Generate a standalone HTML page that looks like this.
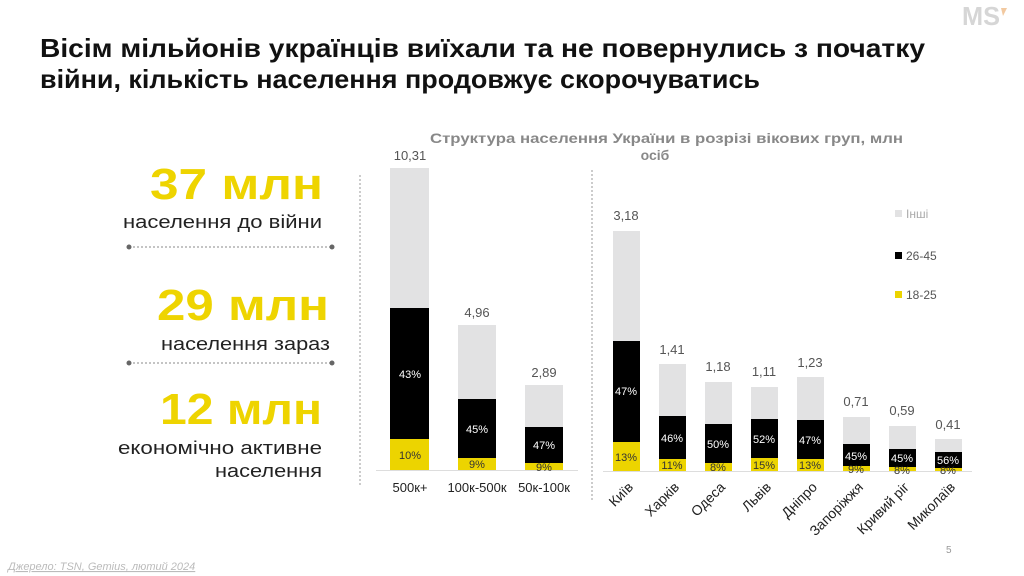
<!DOCTYPE html>
<html><head><meta charset="utf-8"><style>
html,body{margin:0;padding:0;background:#fff;}
svg{display:block;font-family:"Liberation Sans","DejaVu Sans",sans-serif;}
</style></head><body>
<svg width="1024" height="576" viewBox="0 0 1024 576" xmlns="http://www.w3.org/2000/svg">
<rect width="1024" height="576" fill="#fff"/>
<!-- logo -->
<text x="962" y="25" font-size="26" font-weight="bold" fill="#d6d6d6" textLength="38" lengthAdjust="spacingAndGlyphs">MS</text>
<polygon points="1001,8 1007,8 1003,16" fill="#f2c9a0"/>
<!-- title -->
<text x="40" y="57" font-size="26" font-weight="bold" fill="#111" textLength="885" lengthAdjust="spacingAndGlyphs">Вісім мільйонів українців виїхали та не повернулись з початку</text>
<text x="40" y="88" font-size="26" font-weight="bold" fill="#111" textLength="720" lengthAdjust="spacingAndGlyphs">війни, кількість  населення продовжує скорочуватись</text>
<!-- left stats -->
<g font-weight="bold" fill="#eed400" font-size="44">
<text x="150" y="199" textLength="173" lengthAdjust="spacingAndGlyphs">37 млн</text>
<text x="157" y="320" textLength="172" lengthAdjust="spacingAndGlyphs">29 млн</text>
<text x="160" y="424" textLength="162" lengthAdjust="spacingAndGlyphs">12 млн</text>
</g>
<g font-size="18" fill="#222">
<text x="123" y="228" textLength="199" lengthAdjust="spacingAndGlyphs">населення до війни</text>
<text x="161" y="350" textLength="169" lengthAdjust="spacingAndGlyphs">населення зараз</text>
<text x="118" y="454" textLength="204" lengthAdjust="spacingAndGlyphs">економічно активне</text>
<text x="215" y="477" textLength="107" lengthAdjust="spacingAndGlyphs">населення</text>
</g>
<g stroke="#888" stroke-width="1" stroke-dasharray="2,2"><line x1="129" y1="247" x2="332" y2="247"/><line x1="129" y1="363" x2="332" y2="363"/></g>
<g fill="#666"><circle cx="129" cy="247" r="2.5"/><circle cx="332" cy="247" r="2.5"/><circle cx="129" cy="363" r="2.5"/><circle cx="332" cy="363" r="2.5"/></g>
<!-- dotted separators -->
<g stroke="#999" stroke-width="1" stroke-dasharray="2,2">
<line x1="360" y1="175" x2="360" y2="485"/>
<line x1="592" y1="170" x2="592" y2="500"/>
</g>
<!-- chart title -->
<text x="430" y="143" font-size="14" font-weight="bold" fill="#888" textLength="473" lengthAdjust="spacingAndGlyphs">Структура населення України в розрізі вікових груп, млн</text>
<text x="655" y="160" font-size="14" font-weight="bold" fill="#888" text-anchor="middle">осіб</text>
<!-- left bars -->
<g>
<rect x="390" y="168" width="39" height="140" fill="#e2e2e3"/><rect x="390" y="308" width="39" height="131" fill="#000"/><rect x="390" y="439" width="39" height="31" fill="#ecd400"/>
<rect x="458" y="325" width="38" height="74" fill="#e2e2e3"/><rect x="458" y="399" width="38" height="59" fill="#000"/><rect x="458" y="458" width="38" height="12" fill="#ecd400"/>
<rect x="525" y="385" width="38" height="42" fill="#e2e2e3"/><rect x="525" y="427" width="38" height="36" fill="#000"/><rect x="525" y="463" width="38" height="7" fill="#ecd400"/>
</g>
<line x1="376" y1="470.5" x2="578" y2="470.5" stroke="#ddd"/>
<g font-size="13" fill="#555" text-anchor="middle">
<text x="410" y="160">10,31</text><text x="477" y="317">4,96</text><text x="544" y="377">2,89</text>
</g>
<g font-size="11" fill="#fff" text-anchor="middle">
<text x="410" y="378">43%</text><text x="477" y="433">45%</text><text x="544" y="449">47%</text>
</g>
<g font-size="11" fill="#333" text-anchor="middle">
<text x="410" y="459">10%</text><text x="477" y="468">9%</text><text x="544" y="471">9%</text>
</g>
<g font-size="13" fill="#222" text-anchor="middle">
<text x="410" y="492">500к+</text><text x="477" y="492">100к-500к</text><text x="544" y="492">50к-100к</text>
</g>
<!-- right bars -->
<g>
<rect x="613" y="231" width="27" height="110" fill="#e2e2e3"/><rect x="613" y="341" width="27" height="101" fill="#000"/><rect x="613" y="442" width="27" height="29" fill="#ecd400"/>
<rect x="659" y="364" width="27" height="52" fill="#e2e2e3"/><rect x="659" y="416" width="27" height="43" fill="#000"/><rect x="659" y="459" width="27" height="12" fill="#ecd400"/>
<rect x="705" y="382" width="27" height="42" fill="#e2e2e3"/><rect x="705" y="424" width="27" height="39" fill="#000"/><rect x="705" y="463" width="27" height="8" fill="#ecd400"/>
<rect x="751" y="387" width="27" height="32" fill="#e2e2e3"/><rect x="751" y="419" width="27" height="39" fill="#000"/><rect x="751" y="458" width="27" height="13" fill="#ecd400"/>
<rect x="797" y="377" width="27" height="43" fill="#e2e2e3"/><rect x="797" y="420" width="27" height="39" fill="#000"/><rect x="797" y="459" width="27" height="12" fill="#ecd400"/>
<rect x="843" y="417" width="27" height="27" fill="#e2e2e3"/><rect x="843" y="444" width="27" height="22" fill="#000"/><rect x="843" y="466" width="27" height="5" fill="#ecd400"/>
<rect x="889" y="426" width="27" height="23" fill="#e2e2e3"/><rect x="889" y="449" width="27" height="18" fill="#000"/><rect x="889" y="467" width="27" height="4" fill="#ecd400"/>
<rect x="935" y="439" width="27" height="13" fill="#e2e2e3"/><rect x="935" y="452" width="27" height="16" fill="#000"/><rect x="935" y="468" width="27" height="3" fill="#ecd400"/>
</g>
<line x1="603" y1="471.5" x2="972" y2="471.5" stroke="#ddd"/>
<g font-size="13" fill="#555" text-anchor="middle">
<text x="626" y="220">3,18</text><text x="672" y="354">1,41</text><text x="718" y="371">1,18</text><text x="764" y="376">1,11</text><text x="810" y="367">1,23</text><text x="856" y="406">0,71</text><text x="902" y="415">0,59</text><text x="948" y="429">0,41</text>
</g>
<g font-size="11" fill="#fff" text-anchor="middle">
<text x="626" y="395">47%</text><text x="672" y="442">46%</text><text x="718" y="448">50%</text><text x="764" y="443">52%</text><text x="810" y="444">47%</text><text x="856" y="460">45%</text><text x="902" y="462">45%</text><text x="948" y="464">56%</text>
</g>
<g font-size="11" fill="#333" text-anchor="middle">
<text x="626" y="461">13%</text><text x="672" y="469">11%</text><text x="718" y="471">8%</text><text x="764" y="469">15%</text><text x="810" y="469">13%</text><text x="856" y="473">9%</text><text x="902" y="474">8%</text><text x="948" y="474">8%</text>
</g>
<g font-size="14" fill="#222" text-anchor="end">
<text transform="translate(634,488) rotate(-45)">Київ</text>
<text transform="translate(680,488) rotate(-45)">Харків</text>
<text transform="translate(726,488) rotate(-45)">Одеса</text>
<text transform="translate(772,488) rotate(-45)">Львів</text>
<text transform="translate(818,488) rotate(-45)">Дніпро</text>
<text transform="translate(864,488) rotate(-45)">Запоріжжя</text>
<text transform="translate(910,488) rotate(-45)">Кривий ріг</text>
<text transform="translate(956,488) rotate(-45)">Миколаїв</text>
</g>
<!-- legend -->
<rect x="895" y="210" width="7" height="7" fill="#e2e2e3"/><text x="906" y="218" font-size="12" fill="#aaa">Інші</text>
<rect x="895" y="252" width="7" height="7" fill="#000"/><text x="906" y="260" font-size="12" fill="#555">26-45</text>
<rect x="895" y="291" width="7" height="7" fill="#ecd400"/><text x="906" y="299" font-size="12" fill="#555">18-25</text>
<!-- footer -->
<text x="946" y="553" font-size="10" fill="#999">5</text>
<text x="8" y="570" font-size="11" font-style="italic" fill="#bbb" text-decoration="underline">Джерело: TSN, Gemius, лютий 2024</text>
</svg>
</body></html>
